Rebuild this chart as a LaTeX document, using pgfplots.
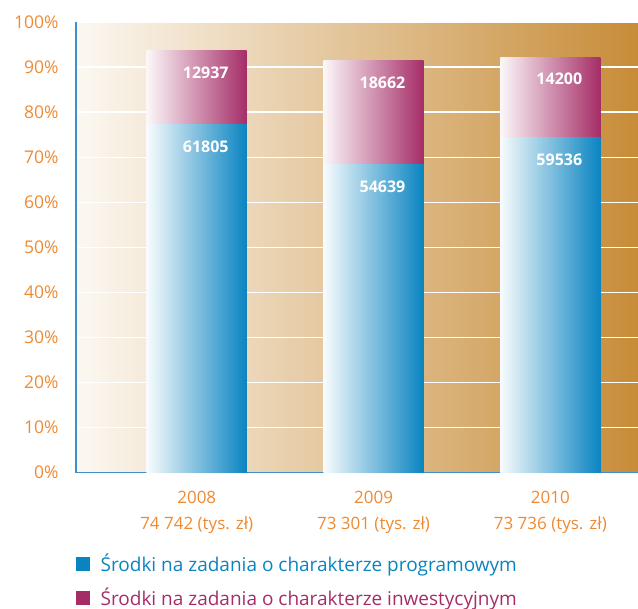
\documentclass[border=0pt]{standalone}
\usepackage{pgfplots}
\pgfplotsset{compat=1.18}
\usepackage{fontspec}
\setmainfont{Open Sans}
\definecolor{tickorange}{HTML}{EE8A32}
\definecolor{axisblue}{HTML}{3E8FCB}
\definecolor{progblue}{HTML}{0A84C1}
\definecolor{invmag}{HTML}{A52D67}
\definecolor{bgL}{HTML}{FCF8F2}
\definecolor{bgR}{HTML}{C78C38}

\pgfplotsset{
    progbar/.style={forget plot, draw=none, left color=progblue!3!white, right color=progblue},
    invbar/.style={forget plot, draw=none, left color=invmag!4!white, right color=invmag},
}

\begin{document}
\begin{tikzpicture}
\begin{axis}[
    scale only axis,
    width=562pt, height=450.7pt,
    xmin=-0.683, xmax=2.496,
    ymin=0, ymax=100,
    ybar, bar width=100pt, bar shift=0pt,
    axis x line*=bottom, axis y line*=left,
    axis line style={-, draw=axisblue, line width=1.6pt},
    axis background/.style={left color=bgL, right color=bgR},
    ymajorgrids,
    grid style={white, line width=1.3pt},
    major tick length=0pt,
    ytick={0,10,...,100},
    yticklabels={0\%,10\%,20\%,30\%,40\%,50\%,60\%,70\%,80\%,90\%,100\%},
    yticklabel style={text=tickorange, font=\fontsize{17.5}{21}\selectfont, xshift=-14pt},
    xtick={0,1,2},
    xticklabels={{2008\\74 742 (tys. zł)},{2009\\73 301 (tys. zł)},{2010\\73 736 (tys. zł)}},
    xticklabel style={align=center, text=tickorange, font=\fontsize{17}{26}\selectfont, yshift=-15pt},
    legend style={at={(rel axis cs:0,0)}, anchor=north west, draw=none, fill=none,
        xshift=-3pt, yshift=-77pt, font=\fontsize{19}{20}\selectfont,
        row sep=11pt, cells={anchor=west}},
    legend image code/.code={\fill[#1] (0pt,-6.5pt) rectangle (13pt,6.5pt); \path (22pt,0pt);},
    nodes near coords,
    point meta=explicit symbolic,
    every node near coord/.append style={text=white, font=\fontsize{16}{18}\selectfont\bfseries,
        anchor=center, xshift=9pt, yshift=-22pt},
]
% visual bar tops (percent of axis); labels are the amounts in tys. zl
% investment part drawn as full bar, programme part over it
\addplot[invbar] coordinates {(0,93.6)[12937]};
\addplot[invbar] coordinates {(1,91.5)[18662]};
\addplot[invbar] coordinates {(2,92.2)[14200]};
\addplot[progbar] coordinates {(0,77.2)[61805]};
\addplot[progbar] coordinates {(1,68.3)[54639]};
\addplot[progbar] coordinates {(2,74.4)[59536]};
\addlegendimage{progblue}
\addlegendentry{\textcolor{progblue}{Środki na zadania o charakterze programowym}}
\addlegendimage{invmag}
\addlegendentry{\textcolor{invmag}{Środki na zadania o charakterze inwestycyjnym}}
\coordinate (bl) at (rel axis cs:0,0);
\end{axis}
\pgfresetboundingbox
\path[use as bounding box] ([shift={(-76pt,-136.3pt)}]bl) rectangle ++(638pt,609pt);
\end{tikzpicture}
\end{document}
